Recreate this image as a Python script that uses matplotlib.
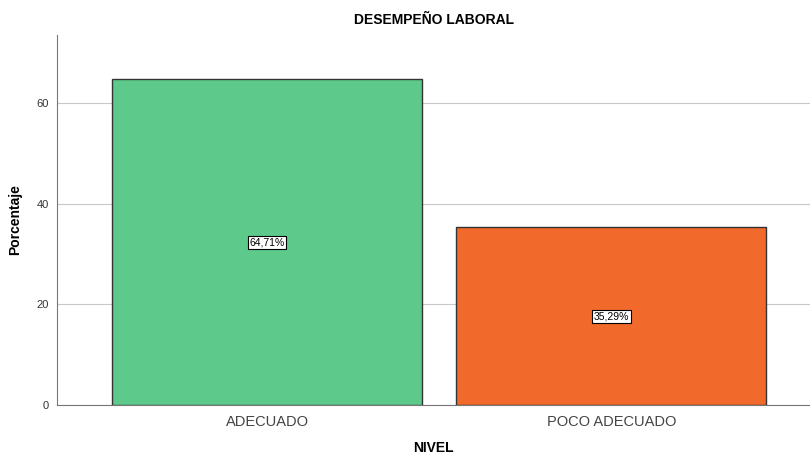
import matplotlib
matplotlib.use("Agg")
import matplotlib.pyplot as plt

categories = ["ADECUADO", "POCO ADECUADO"]
values = [64.71, 35.29]
labels = ["64,71%", "35,29%"]
colors = ["#5dca8b", "#f2692c"]
yticks = [0, 20, 40, 60]

plt.rcParams['font.family'] = ['Liberation Sans', 'DejaVu Sans']

fig = plt.figure(figsize=(8.1, 4.55), dpi=100)
ax = fig.add_axes([0.0704, 0.1099, 0.9296, 0.8132])

x = list(range(len(categories)))
ax.bar(x, values, width=0.9, color=colors, edgecolor="#333333", linewidth=1.0, zorder=3)
for xi, v, lab in zip(x, values, labels):
    ax.text(xi, v / 2, lab, ha="center", va="center", fontsize=7.5, color="black", zorder=4,
            bbox=dict(boxstyle="square,pad=0.15", facecolor="white", edgecolor="black", linewidth=0.8))

ax.set_xlim(-0.61, 1.577)
ax.set_ylim(0, 73.5)
ax.set_yticks(yticks)
ax.set_yticklabels([str(t) for t in yticks], fontsize=8, color="#333333")
ax.set_xticks(x)
ax.set_xticklabels(categories, fontsize=10.5, color="#444444")
ax.tick_params(axis="x", length=0, pad=7)
ax.tick_params(axis="y", length=0, pad=6)
ax.yaxis.grid(True, color="#c8c8c8", linewidth=0.8, zorder=0)
ax.set_axisbelow(True)

for s in ["top", "right"]:
    ax.spines[s].set_visible(False)
ax.spines["left"].set_color("#777777")
ax.spines["bottom"].set_color("#777777")

ax.set_title("DESEMPEÑO LABORAL", fontsize=10, fontweight="bold", pad=8)
ax.set_ylabel("Porcentaje", fontsize=10, fontweight="bold", labelpad=10)
ax.set_xlabel("NIVEL", fontsize=10, fontweight="bold", labelpad=9)

fig.savefig("out.png", dpi=100)
